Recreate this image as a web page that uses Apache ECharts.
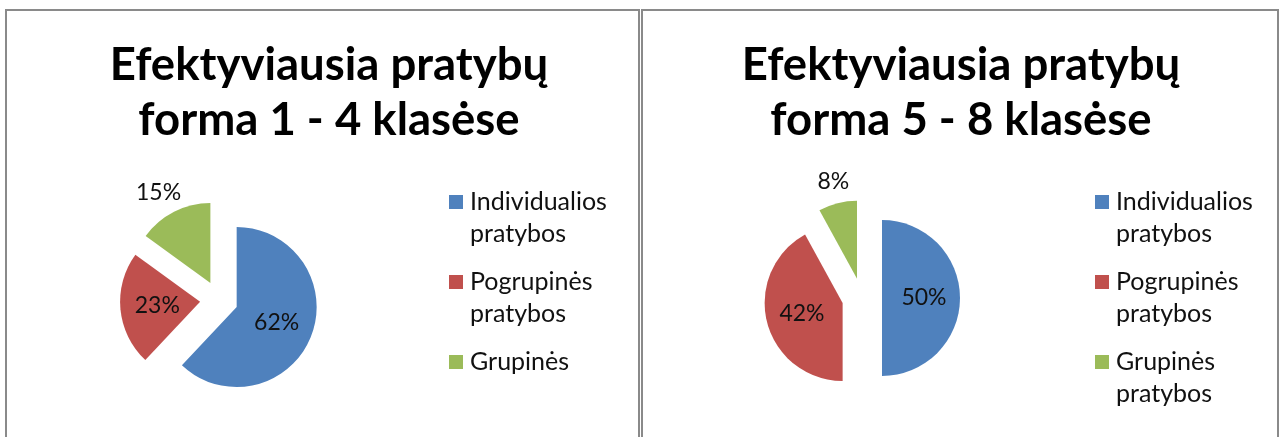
<!DOCTYPE html>
<html>
<head>
<meta charset="utf-8">
<script src="https://cdn.jsdelivr.net/npm/echarts@6/dist/echarts.min.js"></script>
<style>
  html, body { margin: 0; padding: 0; background: #fff; }
  #chart { width: 1286px; height: 437px; }
</style>
</head>
<body>
<div id="chart"></div>
<script>
// chart data
const titles = ['Efektyviausia pratybų\nforma 1 - 4 klasėse', 'Efektyviausia pratybų\nforma 5 - 8 klasėse'];
const categoriesLeft = ['Individualios pratybos', 'Pogrupinės pratybos', 'Grupinės'];
const categoriesRight = ['Individualios pratybos', 'Pogrupinės pratybos', 'Grupinės pratybos'];
const valuesLeft = [62, 23, 15];
const valuesRight = [50, 42, 8];

const colors = ['#4f81bd', '#c0504d', '#9bbb59'];
const fontFamily = 'Lato, "Open Sans", sans-serif';

// icon: square on the first text line, box stretched to two lines
const legendIcon = 'path://M0,0L14,0M0,9L14,9L14,23L0,23ZM0,64L14,64';

function pieData(names, values) {
  return names.map((name, i) => ({
    name: name,
    value: values[i],
    selected: true,
    itemStyle: { color: colors[i] },
    // smallest slice gets its label outside, above the slice
    label: i === names.length - 1
      ? { position: 'outside' }
      : { position: 'inside' },
    labelLine: { show: false, length: 22, length2: -22 }
  }));
}

function legendOpt(names, left) {
  return {
    data: names,
    orient: 'vertical',
    left: left,
    top: 186,
    padding: 0,
    itemWidth: 14,
    itemHeight: 64,
    itemGap: 16,
    icon: legendIcon,
    selectedMode: false,
    itemStyle: { borderWidth: 0 },
    formatter: (name) => name.split(' ').join('\n') + (name.indexOf(' ') < 0 ? '\n' : ''),
    textStyle: { fontFamily: fontFamily, fontSize: 25, lineHeight: 32, color: '#111', padding: [0, 0, 0, 2] }
  };
}

function pieSeries(names, values, center, radius, offset) {
  return {
    type: 'pie',
    center: center,
    radius: radius,
    startAngle: 90,
    clockwise: true,
    selectedMode: 'multiple',
    selectedOffset: offset,
    avoidLabelOverlap: false,
    emphasis: { disabled: true },
    itemStyle: { borderWidth: 0 },
    label: {
      formatter: '{c}%',
      fontFamily: fontFamily,
      fontSize: 23,
      color: '#111'
    },
    data: pieData(names, values)
  };
}

const chart = echarts.init(document.getElementById('chart'), null, { renderer: 'canvas' });

const titleStyle = { fontFamily: fontFamily, fontSize: 45.5, fontWeight: 'bold', lineHeight: 55, color: '#000' };

const option = {
  animation: false,
  color: colors,
  title: [
    { text: titles[0], left: 329, top: 38, textAlign: 'center', padding: 0, textStyle: titleStyle },
    { text: titles[1], left: 961, top: 38, textAlign: 'center', padding: 0, textStyle: titleStyle }
  ],
  legend: [
    legendOpt(categoriesLeft, 449),
    legendOpt(categoriesRight, 1095)
  ],
  graphic: [
    { type: 'rect', shape: { x: 6, y: 10, width: 633, height: 500 }, style: { fill: 'none', stroke: '#8a8a8a', lineWidth: 2 }, silent: true },
    { type: 'rect', shape: { x: 642, y: 10, width: 636, height: 500 }, style: { fill: 'none', stroke: '#8a8a8a', lineWidth: 2 }, silent: true }
  ],
  series: [
    pieSeries(categoriesLeft, valuesLeft, [219, 300], 80, 19),
    pieSeries(categoriesRight, valuesRight, [862, 298], 78, 20)
  ]
};

chart.setOption(option);
</script>
</body>
</html>
